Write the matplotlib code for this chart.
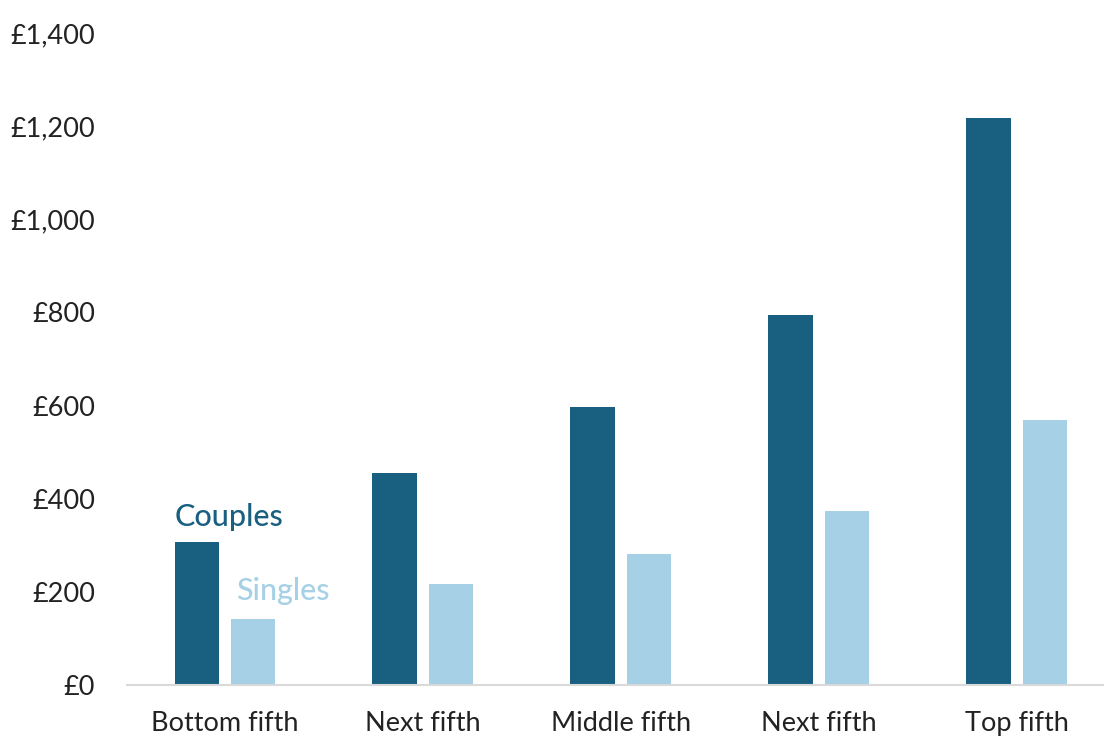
#!/usr/bin/env python3
"""Bar chart: couples vs singles by income fifth"""

import numpy as np
import matplotlib
matplotlib.use('Agg')
import matplotlib.pyplot as plt

groups = ['Bottom fifth', 'Next fifth', 'Middle fifth', 'Next fifth', 'Top fifth']
couples = [307, 455, 597, 794, 1217]
singles = [142, 217, 281, 373, 569]
yticks = [0, 200, 400, 600, 800, 1000, 1200, 1400]

DARK = '#185f80'
LIGHT = '#a6d0e6'

plt.rcParams['font.family'] = ['Lato', 'DejaVu Sans']

W, H = 1104, 736
fig = plt.figure(figsize=(W / 100, H / 100), dpi=100)
# axes in pixel coords: x 127..1104, y 33(top £1,400)..685(£0)
ax = fig.add_axes([127 / W, (H - 685) / H, (1104 - 127) / W, (685 - 33) / H])

x = np.arange(len(groups))
bw = 0.224
off = 0.143
ax.bar(x - off, couples, bw, color=DARK)
ax.bar(x + off, singles, bw, color=LIGHT)

ax.set_xlim(-0.495, 4.44)
ax.set_ylim(0, 1400)
ax.set_yticks(yticks)
ax.set_yticklabels(['£{:,}'.format(v) for v in yticks])
ax.set_xticks(x)
ax.set_xticklabels(groups)
ax.tick_params(axis='both', length=0, labelsize=19.5, colors='#222222')
ax.tick_params(axis='y', pad=23)
ax.tick_params(axis='x', pad=19)
for lab in ax.get_yticklabels():
    lab.set_horizontalalignment('right')

for s in ['top', 'right', 'left']:
    ax.spines[s].set_visible(False)
ax.spines['bottom'].set_color('#d9d9d9')
ax.spines['bottom'].set_linewidth(1.5)

ax.text(x[0] - off - bw / 2, couples[0] + 24, 'Couples', color=DARK,
        fontsize=22, fontweight='medium', ha='left', va='bottom')
ax.text(x[0] + off - bw / 2 + 0.025, singles[0] + 30, 'Singles', color=LIGHT,
        fontsize=22, fontweight='medium', ha='left', va='bottom')

fig.savefig('out.png', dpi=100)
